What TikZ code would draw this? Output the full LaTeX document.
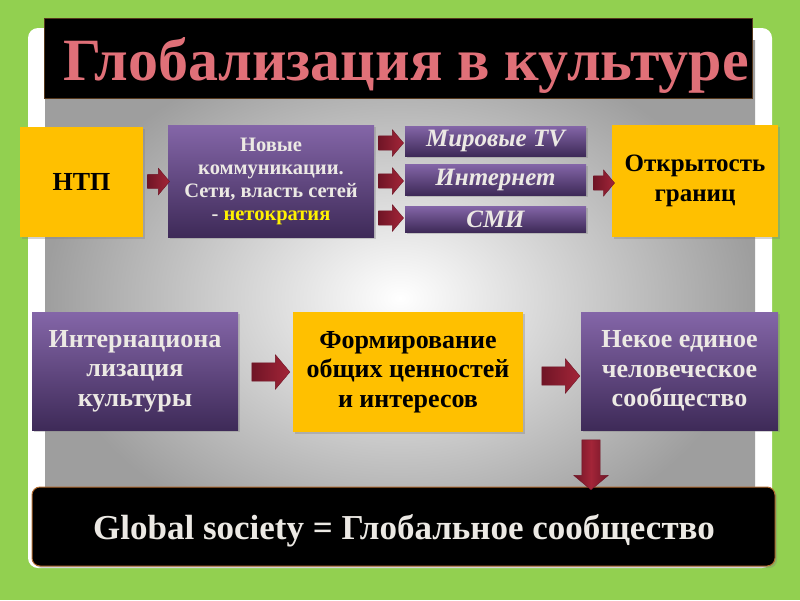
\documentclass[tikz,border=0pt]{standalone}
\usepackage{fontspec}
\setmainfont{Liberation Serif}
\usetikzlibrary{shapes.arrows,shadows,calc}
\definecolor{bggreen}{HTML}{92D050}
\definecolor{orangebox}{HTML}{FFC000}
\definecolor{purtop}{HTML}{8466A8}
\definecolor{purbot}{HTML}{3E2A58}
\definecolor{titlered}{HTML}{E07078}
\definecolor{lighttext}{HTML}{ECE9E4}
\definecolor{arrred}{HTML}{A32538}
\definecolor{arrdark}{HTML}{701526}
\definecolor{bordbrown}{HTML}{B06A30}
\begin{document}
\begin{tikzpicture}[x=1pt,y=-1pt,
  obox/.style={fill=orangebox, inner sep=0pt, align=center, text=black, font=\bfseries,
    drop shadow={shadow xshift=2pt,shadow yshift=-2pt,opacity=0.35}},
  pbox/.style={top color=purtop, bottom color=purbot, inner sep=0pt, align=center, text=lighttext, font=\bfseries,
    drop shadow={shadow xshift=2pt,shadow yshift=-2pt,opacity=0.35}},
  barrow/.style n args={3}{single arrow, draw=arrdark, line width=0.4pt, left color=arrdark, right color=arrred,
    inner sep=0pt, text width=0pt, text height=#2/2, text depth=#2/2,
    single arrow head extend=#3, single arrow tip angle=100, minimum height=#1},
]
\useasboundingbox (0,0) rectangle (800,600);
\fill[bggreen] (0,0) rectangle (800,600);
\fill[white, rounded corners=10pt] (28,28) rectangle (772,568);
\shade[inner color=white, outer color=black!38] (45,40) rectangle (755,556);

% title
\node[fill=black, draw=black!55!brown, minimum width=708pt, minimum height=80pt, inner sep=0pt] (title) at (398,58) {};
\node[anchor=base, text=titlered, inner sep=0pt, font=\bfseries\fontsize{60}{64}\selectfont] (titletext) at (406,80) {Глобализация в культуре};

% top row
\node[obox, minimum width=123pt, minimum height=110pt, font=\bfseries\fontsize{26}{28}\selectfont] (ntp) at (81.5,182) {НТП};
\node[pbox, minimum width=206pt, minimum height=112pt, font=\bfseries\fontsize{20.5}{23}\selectfont] (comm) at (271,181)
  {Новые\\коммуникации.\\Сети, власть сетей\\- \textcolor{yellow}{нетократия}};
\node[pbox, minimum width=181pt, minimum height=30pt, font=\bfseries\itshape\fontsize{25}{26}\selectfont] (tv) at (495.5,141) {Мировые TV};
\node[pbox, minimum width=181pt, minimum height=31pt, font=\bfseries\itshape\fontsize{25}{26}\selectfont] (inet) at (495.5,179.5) {Интернет};
\node[pbox, minimum width=181pt, minimum height=26pt, font=\bfseries\itshape\fontsize{25}{26}\selectfont] (smi) at (495.5,219) {СМИ};
\node[obox, minimum width=166pt, minimum height=112pt, font=\bfseries\fontsize{25}{30}\selectfont] (open) at (695,181) {Открытость\\границ};

\node[barrow={22pt}{14pt}{6pt}] (a1) at ($(ntp.east)!0.5!(comm.west)$) {};
\node[barrow={25pt}{14pt}{6pt}] (a2) at (388,143) {};
\node[barrow={25pt}{14pt}{6pt}] (a3) at (388,181) {};
\node[barrow={25pt}{14pt}{6pt}] (a4) at (388,218) {};
\node[barrow={21pt}{14pt}{6pt}] (a5) at (601,183) {};

% second row
\node[pbox, minimum width=206pt, minimum height=118pt, font=\bfseries\fontsize{26}{29.5}\selectfont] (intl) at (135,371)
  {Интернациона\\лизация\\культуры};
\node[obox, minimum width=230pt, minimum height=120pt, font=\bfseries\fontsize{26}{29.5}\selectfont] (form) at (408,372)
  {Формирование\\общих ценностей\\и интересов};
\node[pbox, minimum width=197pt, minimum height=118pt, font=\bfseries\fontsize{26}{29.5}\selectfont] (hum) at (679.5,371)
  {Некое единое\\человеческое\\сообщество};

\node[barrow={38pt}{18pt}{8pt}] (b1) at (267,372) {};
\node[barrow={38pt}{18pt}{8pt}] (b2) at (557,376) {};

% bottom
\node[fill=black, draw=bordbrown, line width=1pt, rounded corners=8pt, minimum width=743pt, minimum height=79pt, inner sep=0pt,
  drop shadow={shadow xshift=2pt,shadow yshift=-2pt,opacity=0.35}] (glob) at (403.5,526.5) {};
\node[anchor=base, inner sep=0pt, text=lighttext, font=\bfseries\fontsize{35}{38}\selectfont] (globtext) at (404,539)
  {Global society = Глобальное сообщество};

\node[barrow={50pt}{18pt}{8pt}, rotate=-90, left color=arrdark, right color=arrdark, middle color=arrred] (b3) at (591,461) {};
\end{tikzpicture}
\end{document}
